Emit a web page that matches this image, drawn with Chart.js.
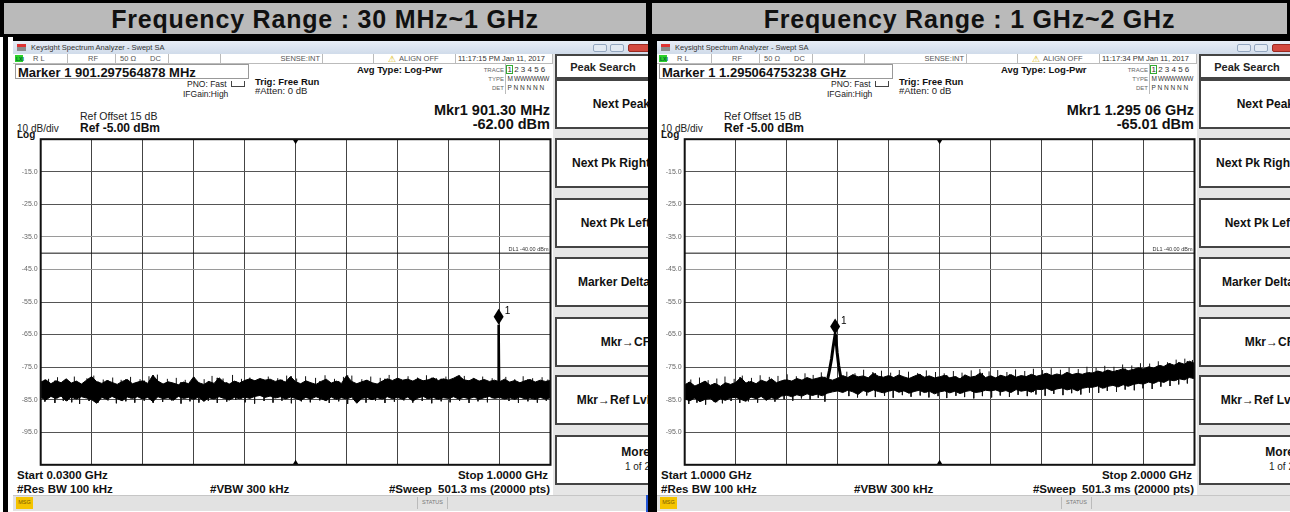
<!DOCTYPE html>
<html>
<head>
<title>Spectrum Analyzer Screens</title>
<script src="https://cdn.jsdelivr.net/npm/chart.js"></script>
<style>
  body { margin:0; width:1290px; height:512px; overflow:hidden; background:#000; position:relative; font-family:'Liberation Sans', Arial, sans-serif; }
  .title { position:absolute; top:3px; height:31px; background:#bababa; font-weight:bold; font-size:25px; letter-spacing:0.8px; line-height:32px; text-align:center; color:#111; }
  .panel { position:absolute; top:0; height:512px; overflow:hidden; }
  .inner { position:absolute; top:0; width:700px; height:512px; }
  .t { position:absolute; white-space:nowrap; line-height:1; color:#111; }
  .b { position:absolute; box-sizing:border-box; }
  canvas { position:absolute; }
</style>
</head>
<body>
<div class="title" style="left:4px;width:642px">Frequency Range : 30 MHz~1 GHz</div>
<div class="title" style="left:652px;width:635px">Frequency Range : 1 GHz~2 GHz</div>
<div class="panel" id="p0" style="left:0;width:648px"><div class="inner" style="left:0"></div></div>
<div class="panel" id="p1" style="left:648px;width:642px"><div class="inner" style="left:-4px"></div></div>

<script>
// ---- data read off the two analyzer screens ----
// trace envelopes: 101 evenly spaced samples across each span (dBm)
const lowStartGHz = 0.03, lowStopGHz = 1.0;
const lowUpper = [
  -79.6,-78.9,-80.1,-79.2,-79.8,-78.6,-79.9,-79.3,-80.2,-79.0,
  -77.9,-79.5,-80.0,-79.1,-79.7,-80.3,-79.4,-78.8,-80.1,-79.6,
  -79.2,-80.0,-77.5,-79.3,-80.2,-79.5,-79.9,-80.4,-79.6,-80.1,
  -78.0,-79.8,-80.3,-79.4,-80.0,-78.3,-79.7,-80.2,-79.3,-79.9,
  -79.1,-78.6,-79.2,-78.5,-79.0,-78.7,-79.4,-78.9,-79.6,-77.9,
  -79.5,-80.1,-79.2,-79.8,-80.3,-79.4,-78.7,-79.9,-79.3,-80.0,
  -77.6,-79.4,-80.1,-79.5,-79.0,-79.8,-80.2,-79.3,-78.6,-79.1,
  -78.4,-79.0,-78.7,-79.3,-78.5,-79.2,-78.9,-78.3,-79.1,-78.6,
  -79.0,-78.4,-77.6,-78.9,-79.2,-78.5,-79.3,-78.8,-79.4,-79.0,
  -79.5,-78.7,-79.6,-79.1,-79.8,-79.2,-78.8,-79.6,-79.0,-79.4,-79.1
];
const lowLower = [
  -84.3,-85.1,-84.0,-84.6,-83.9,-85.4,-84.2,-84.8,-84.1,-84.5,
  -85.0,-86.1,-84.3,-84.9,-84.0,-84.7,-85.3,-84.2,-84.6,-84.1,
  -84.8,-84.3,-85.6,-84.1,-84.7,-84.4,-85.2,-84.0,-84.6,-84.3,
  -84.9,-84.2,-85.5,-84.4,-84.8,-84.1,-84.6,-85.1,-84.3,-84.7,
  -84.2,-84.6,-84.0,-83.7,-84.3,-83.9,-84.5,-84.1,-84.8,-84.2,
  -84.6,-85.2,-84.3,-84.8,-84.1,-84.7,-85.3,-84.2,-84.9,-84.4,
  -84.8,-84.2,-86.1,-84.6,-84.3,-85.0,-84.4,-84.8,-84.1,-84.7,
  -84.3,-84.9,-84.2,-85.4,-84.5,-84.0,-84.7,-84.3,-84.9,-84.4,
  -84.6,-84.1,-84.8,-84.3,-84.7,-84.2,-84.9,-84.4,-84.0,-84.6,
  -84.3,-84.8,-84.4,-84.9,-84.2,-84.7,-84.5,-84.9,-84.3,-84.8,-84.4
];
// single-sample noise spikes sticking out of the band
const lowUpSpikeGHz = [0.045,0.062,0.081,0.094,0.118,0.131,0.149,0.167,0.183,0.201,0.219,0.236,0.252,0.271,0.288,0.305,0.322,0.341,0.356,0.377,0.395,0.412,0.428,0.447,0.463,0.481,0.498,0.517,0.534,0.553,0.571,0.589,0.606,0.622,0.641,0.658,0.676,0.693,0.712,0.729,0.747,0.764,0.783,0.801,0.818,0.836,0.853,0.871,0.889,0.915,0.932,0.948,0.966,0.984,0.995];
const lowUpSpikeDbm = [-78.6,-78.1,-78.9,-77.9,-78.4,-77.6,-78.8,-78.2,-78.9,-78.0,-78.7,-77.8,-77.3,-78.6,-78.3,-78.9,-78.1,-78.7,-77.7,-78.5,-77.4,-78.6,-78.2,-78.9,-77.9,-78.4,-77.6,-78.5,-77.8,-78.3,-77.5,-78.6,-78.0,-77.6,-78.7,-77.9,-78.3,-77.4,-78.6,-77.8,-78.2,-77.5,-78.4,-77.9,-78.6,-77.7,-78.3,-77.9,-78.4,-78.0,-78.7,-77.8,-78.4,-78.1,-78.8];
const lowDownSpikeGHz = [0.038,0.057,0.073,0.089,0.104,0.122,0.139,0.158,0.174,0.192,0.209,0.227,0.244,0.262,0.279,0.297,0.314,0.331,0.349,0.366,0.384,0.401,0.419,0.437,0.455,0.472,0.489,0.507,0.526,0.543,0.561,0.579,0.597,0.614,0.632,0.649,0.667,0.685,0.703,0.721,0.738,0.756,0.774,0.792,0.809,0.827,0.845,0.862,0.880,0.921,0.939,0.957,0.975,0.992];
const lowDownSpikeDbm = [-85.6,-86.0,-85.3,-85.8,-86.3,-85.4,-85.9,-85.2,-86.1,-85.5,-85.9,-85.3,-86.0,-85.7,-85.2,-86.2,-85.5,-85.9,-85.3,-86.0,-85.6,-85.1,-85.8,-86.2,-85.4,-85.9,-85.3,-86.1,-85.5,-85.8,-85.2,-86.0,-85.5,-86.3,-85.4,-85.9,-85.3,-86.0,-85.6,-85.2,-85.9,-85.4,-86.1,-85.5,-85.8,-85.3,-86.0,-85.5,-85.8,-85.4,-86.0,-85.5,-85.9,-85.3];
const lowPeakGHz = [0.9003, 0.9013, 0.9023];
const lowPeakDbm = [-80.5, -62.0, -80.5];

const highStartGHz = 1.0, highStopGHz = 2.0;
const highUpper = [
  -80.4,-79.6,-80.8,-80.1,-79.3,-80.6,-80.0,-80.9,-79.8,-80.3,
  -79.7,-78.2,-79.9,-79.4,-80.1,-79.0,-79.6,-78.6,-79.8,-79.2,
  -78.9,-79.3,-78.5,-79.0,-78.2,-78.8,-78.4,-78.0,-78.6,-79.0,
  -78.4,-77.6,-78.2,-77.3,-78.0,-77.7,-78.3,-76.9,-77.8,-78.1,
  -77.6,-78.2,-77.4,-78.0,-78.5,-77.8,-77.2,-78.1,-77.7,-78.3,
  -78.0,-77.5,-78.3,-77.9,-78.6,-77.4,-78.1,-77.8,-76.8,-78.2,
  -77.7,-78.3,-77.5,-78.0,-77.3,-78.1,-77.6,-77.9,-77.2,-77.8,
  -77.4,-76.9,-77.6,-77.1,-77.5,-76.6,-77.3,-76.9,-77.2,-76.7,
  -76.8,-76.2,-76.6,-75.9,-76.4,-76.0,-75.5,-76.1,-75.7,-75.2,
  -75.6,-74.9,-75.3,-74.5,-74.8,-73.9,-74.4,-73.6,-74.1,-73.2,-73.8
];
const highLower = [
  -84.8,-85.3,-84.5,-85.6,-84.9,-84.6,-85.8,-84.7,-85.2,-84.4,
  -84.3,-84.9,-85.5,-84.2,-84.7,-84.0,-85.1,-84.4,-84.8,-83.9,
  -83.6,-84.1,-83.5,-83.9,-83.2,-83.7,-83.3,-83.8,-83.0,-82.6,
  -82.3,-82.8,-82.1,-82.6,-83.4,-82.2,-82.7,-82.0,-82.5,-82.9,
  -82.4,-82.0,-82.7,-82.3,-83.0,-82.5,-82.1,-82.8,-82.4,-83.2,
  -82.6,-82.3,-82.9,-82.4,-83.1,-82.5,-82.2,-82.8,-82.6,-82.1,
  -82.3,-82.0,-82.6,-82.2,-82.8,-81.9,-82.4,-82.1,-82.7,-81.8,
  -81.9,-81.5,-82.2,-81.7,-81.4,-82.0,-81.6,-82.3,-81.5,-81.2,
  -81.2,-80.8,-81.5,-80.9,-80.6,-81.1,-80.4,-80.9,-80.3,-80.0,
  -80.2,-79.6,-80.0,-79.3,-79.7,-78.9,-79.2,-78.6,-78.9,-78.2,-78.5
];
const highUpSpikeGHz = [1.012,1.029,1.046,1.063,1.079,1.097,1.113,1.131,1.148,1.166,1.183,1.201,1.219,1.236,1.252,1.268,1.318,1.334,1.351,1.369,1.386,1.404,1.421,1.439,1.457,1.474,1.492,1.509,1.527,1.544,1.562,1.579,1.597,1.614,1.632,1.649,1.667,1.684,1.702,1.719,1.737,1.754,1.772,1.789,1.807,1.824,1.842,1.859,1.877,1.894,1.912,1.929,1.947,1.964,1.981,1.996];
const highUpSpikeDbm = [-78.8,-78.2,-79.0,-78.5,-77.9,-78.6,-77.6,-78.3,-77.5,-78.0,-77.7,-77.2,-77.8,-76.9,-77.4,-76.6,-76.4,-76.9,-75.8,-76.5,-76.1,-76.7,-75.9,-76.4,-76.8,-76.0,-76.5,-76.9,-76.2,-76.7,-76.0,-75.6,-76.3,-75.9,-76.5,-75.7,-76.2,-75.5,-75.9,-75.3,-75.8,-75.1,-75.6,-74.9,-75.2,-74.6,-74.9,-74.2,-74.5,-73.8,-73.9,-73.2,-73.5,-72.7,-72.4,-72.8];
const highDownSpikeGHz = [1.008,1.024,1.041,1.058,1.074,1.091,1.108,1.125,1.143,1.160,1.177,1.195,1.212,1.229,1.246,1.262,1.275,1.322,1.339,1.357,1.374,1.392,1.409,1.427,1.444,1.462,1.479,1.497,1.514,1.532,1.549,1.567,1.584,1.602,1.619,1.637,1.654,1.672,1.689,1.707,1.724,1.742,1.759,1.777,1.794,1.812,1.829,1.847,1.864,1.882,1.899,1.917,1.934,1.952,1.969,1.986];
const highDownSpikeDbm = [-86.3,-85.9,-86.5,-85.7,-86.1,-85.4,-86.0,-85.5,-85.9,-85.2,-85.6,-84.9,-85.3,-84.6,-85.0,-84.4,-85.6,-83.9,-84.3,-83.7,-84.2,-83.8,-84.4,-83.6,-84.1,-83.7,-84.3,-83.9,-84.5,-83.8,-84.2,-84.6,-83.9,-84.3,-83.7,-84.1,-83.5,-83.9,-83.4,-83.8,-83.2,-83.6,-83.0,-83.4,-82.8,-82.9,-82.3,-82.6,-81.9,-82.1,-81.5,-81.7,-81.0,-80.8,-80.3,-80.0];
const highPeakGHz = [1.278, 1.284, 1.288, 1.291, 1.2935, 1.29506, 1.2965, 1.299, 1.302, 1.306, 1.310];
const highPeakDbm = [-80.5, -76.0, -72.5, -69.0, -66.5, -65.01, -66.0, -70.5, -74.5, -78.0, -80.0];

const markerGHz = [0.901297564878, 1.295064753238];
const markerDbm = [-62.00, -65.01];
const refLevelDbm = -5, bottomDbm = -105;
const yTicks = [-15, -25, -35, -45, -55, -65, -75, -85, -95];
const displayLineDbm = -40;

const softkeys = ['Next Peak', 'Next Pk Right', 'Next Pk Left', 'Marker Delta', 'Mkr\u2192CF', 'Mkr\u2192Ref Lvl', 'More'];
const softkeyTops = [79, 138, 198, 257, 317, 375, 435];

const panels = [
  { id: 'p0', start: lowStartGHz, stop: lowStopGHz, upper: lowUpper, lower: lowLower,
    upF: lowUpSpikeGHz, upL: lowUpSpikeDbm, downF: lowDownSpikeGHz, downL: lowDownSpikeDbm,
    peakF: lowPeakGHz, peakL: lowPeakDbm, peakW: 2.5,
    markerLine: 'Marker 1 901.297564878 MHz', mkrF: 'Mkr1 901.30 MHz', mkrL: '-62.00 dBm',
    time: '11:17:15 PM Jan 11, 2017', startTxt: 'Start 0.0300 GHz', stopTxt: 'Stop 1.0000 GHz' },
  { id: 'p1', start: highStartGHz, stop: highStopGHz, upper: highUpper, lower: highLower,
    upF: highUpSpikeGHz, upL: highUpSpikeDbm, downF: highDownSpikeGHz, downL: highDownSpikeDbm,
    peakF: highPeakGHz, peakL: highPeakDbm, peakW: 3,
    markerLine: 'Marker 1 1.295064753238 GHz', mkrF: 'Mkr1 1.295 06 GHz', mkrL: '-65.01 dBm',
    time: '11:17:34 PM Jan 11, 2017', startTxt: 'Start 1.0000 GHz', stopTxt: 'Stop 2.0000 GHz' }
];

Chart.defaults.font.family = "'Liberation Sans', Arial, sans-serif";

// overlay: display line, centre-frequency triangles, marker diamond, frame
const overlay = {
  id: 'overlay',
  afterDatasetsDraw(chart, args, o) {
    const { ctx, chartArea: a, scales: { x, y } } = chart;
    ctx.save();
    const yd = y.getPixelForValue(displayLineDbm);
    ctx.strokeStyle = '#111';
    ctx.lineWidth = 1;
    ctx.beginPath(); ctx.moveTo(a.left, yd); ctx.lineTo(a.right, yd); ctx.stroke();
    ctx.fillStyle = '#333';
    ctx.font = "5.5px 'Liberation Sans', Arial";
    ctx.textAlign = 'right';
    ctx.fillText('DL1 -40.00 dBm', a.right - 2, yd - 2.5);

    const xc = x.getPixelForValue((x.min + x.max) / 2);
    ctx.fillStyle = '#000';
    ctx.beginPath(); ctx.moveTo(xc - 3, a.top); ctx.lineTo(xc + 3, a.top); ctx.lineTo(xc, a.top + 5); ctx.fill();
    ctx.beginPath(); ctx.moveTo(xc - 3, a.bottom); ctx.lineTo(xc + 3, a.bottom); ctx.lineTo(xc, a.bottom - 5); ctx.fill();

    const mx = x.getPixelForValue(o.mkF), my = y.getPixelForValue(o.mkL);
    ctx.beginPath();
    ctx.moveTo(mx, my); ctx.lineTo(mx + 5, my - 8); ctx.lineTo(mx, my - 16); ctx.lineTo(mx - 5, my - 8);
    ctx.closePath(); ctx.fill();
    ctx.font = "10px 'Liberation Sans', Arial";
    ctx.textAlign = 'left';
    ctx.fillText('1', mx + 6, my - 11);

    ctx.lineWidth = 2;
    ctx.strokeStyle = '#111';
    ctx.strokeRect(a.left, a.top, a.right - a.left, a.bottom - a.top);
    ctx.restore();
  }
};

function buildPanel(p, idx) {
  const el = document.querySelector('#' + p.id + ' .inner');
  const box = (x, y, w, h, css) => {
    const d = document.createElement('div');
    d.className = 'b';
    d.style.cssText = `left:${x}px;top:${y}px;width:${w}px;height:${h}px;` + (css || '');
    el.appendChild(d);
    return d;
  };
  const text = (x, cy, s, css, align) => {
    const d = document.createElement('div');
    d.className = 't';
    d.textContent = s;
    d.style.cssText = `left:${x}px;top:${cy}px;` + (css || '');
    d.style.transform = align === 'r' ? 'translate(-100%,-50%)' : align === 'c' ? 'translate(-50%,-50%)' : 'translateY(-50%)';
    el.appendChild(d);
    return d;
  };

  // backdrop around the window
  box(0, 37, 3, 475, 'background:#fff');
  if (idx === 0) box(8, 37, 5, 475, 'background:#fff');
  box(13, 41, 640, 471, 'background:#fff');

  // window title bar
  box(13, 41, 640, 13, 'background:linear-gradient(#e8eef6,#d0dbea)');
  box(17, 44, 9, 7, 'background:linear-gradient(#d33 0 45%,#8a8a8a 45%)');
  text(31, 47.5, 'Keysight Spectrum Analyzer - Swept SA', 'font-size:7.5px;color:#333');
  box(593, 44, 14, 8, 'background:#e3eaf3;border:1px solid #93a6bf;border-radius:2px');
  box(610, 44, 14, 8, 'background:#e3eaf3;border:1px solid #93a6bf;border-radius:2px');
  box(628, 44, 22, 8, 'background:#d2493f;border:1px solid #9a2a22;border-radius:2px');

  // status row
  box(13, 54, 540, 10, 'border-bottom:1px solid #bbb');
  [67, 115, 168, 220, 322, 373, 455, 552].forEach(x => box(x, 54, 1, 10, 'background:#bbb'));
  box(15, 55, 8, 7, 'background:#2bd12b');
  text(16, 58.8, 'LXI', 'font-size:5px;color:#063;font-weight:bold');
  const st = 'font-size:7.5px;color:#555';
  text(33, 59, 'R L', st);
  text(88, 59, 'RF', st);
  text(120, 59, '50 \u03a9', st);
  text(150, 59, 'DC', st);
  text(320, 59, 'SENSE:INT', st, 'r');
  text(388, 58.5, '\u26a0', 'font-size:9px;color:#d8b400');
  text(399, 59, 'ALIGN OFF', st);
  text(458, 59, p.time, 'font-size:7.5px;color:#333');

  // marker / setup annotations
  box(15, 64, 234, 15, 'border:1px solid #999');
  text(18, 71.5, p.markerLine, 'font-size:13px;font-weight:bold');
  text(187, 84, 'PNO: Fast', 'font-size:8.5px;color:#222');
  box(231, 81, 14, 6, 'border:1px solid #444;border-top:none');
  text(183, 93.5, 'IFGain:High', 'font-size:8.5px;color:#222');
  text(255, 81.5, 'Trig: Free Run', 'font-size:9.5px;font-weight:bold');
  text(255, 90.5, '#Atten: 0 dB', 'font-size:9.5px;color:#222');
  text(357, 69.5, 'Avg Type: Log-Pwr', 'font-size:9.5px;font-weight:bold');

  box(505, 64, 48, 30, 'border-left:1px solid #bbb');
  box(506, 65, 7, 9, 'border:1px solid #3a3');
  text(504, 69.5, 'TRACE', 'font-size:6px;color:#666', 'r');
  text(504, 78.5, 'TYPE', 'font-size:6px;color:#666', 'r');
  text(504, 87.5, 'DET', 'font-size:6px;color:#666', 'r');
  text(507.5, 69.5, '1 2 3 4 5 6', 'font-size:8px;color:#333');
  text(507.5, 78.5, 'M WWWWWW', 'font-size:6.5px;color:#333;letter-spacing:-0.3px');
  text(507.5, 87.5, 'P N N N N N', 'font-size:6.5px;color:#333');

  text(550, 109.5, p.mkrF, 'font-size:14.5px;font-weight:bold', 'r');
  text(550, 124, p.mkrL, 'font-size:14.5px;font-weight:bold', 'r');
  text(80, 116, 'Ref Offset 15 dB', 'font-size:10.5px;color:#222');
  text(80, 127.5, 'Ref -5.00 dBm', 'font-size:12px;font-weight:bold');
  text(17, 129, '10 dB/div', 'font-size:10px;color:#222');
  text(17, 135, 'Log', 'font-size:10px;font-weight:bold');

  // bottom annotations
  const bt = 'font-size:11.5px;font-weight:bold';
  text(17, 475.5, p.startTxt, bt);
  text(17, 489.5, '#Res BW 100 kHz', bt);
  text(210, 489.5, '#VBW 300 kHz', bt);
  text(548, 475.5, p.stopTxt, bt, 'r');
  text(550, 489.5, '#Sweep\u00a0\u00a0501.3 ms (20000 pts)', bt, 'r');

  // status bar
  box(13, 495, 640, 16, 'background:#e2e2e2;border-top:1px solid #c6c6c6');
  box(16, 497, 17, 12, 'background:#f5c400');
  text(24.5, 503, 'MSG', 'font-size:5.5px;color:#7a5a00', 'c');
  box(417, 497, 31, 12, 'border-left:1px solid #bbb;border-right:1px solid #bbb');
  text(432.5, 503, 'STATUS', 'font-size:5.5px;color:#777', 'c');
  if (idx === 0) box(646, 494, 2, 18, 'background:#2456d6');

  // softkey column
  box(553, 54, 110, 441, 'background:#e6e6e6');
  box(555, 54, 105, 25, 'background:#fff;border:2px solid #444');
  text(603, 66.5, 'Peak Search', 'font-size:11px;font-weight:600;color:#222', 'c');
  softkeys.forEach((k, i) => {
    const top = softkeyTops[i];
    box(555, top, 105, 50, 'background:#fff;border:2px solid #444');
    if (k === 'More') {
      text(650, top + 17, k, 'font-size:12px;font-weight:bold', 'r');
      text(650, top + 32, '1 of 2', 'font-size:10px;color:#222', 'r');
    } else {
      text(650, top + 25, k, 'font-size:12px;font-weight:bold', 'r');
    }
  });

  // trace display
  const cv = document.createElement('canvas');
  cv.width = 544; cv.height = 340;
  cv.style.left = '10px'; cv.style.top = '132px';
  el.appendChild(cv);

  const step = (p.stop - p.start) / (p.upper.length - 1);
  const xs = p.upper.map((_, i) => p.start + i * step);
  const divs = Array.from({ length: 11 }, (_, i) => p.start + i * (p.stop - p.start) / 10);
  const yLevels = [bottomDbm, ...yTicks.slice().reverse(), refLevelDbm];

  // spikes: vertical strokes from the opposite band edge out to the spike tip
  const spikes = [];
  const near = f => Math.round((f - p.start) / step);
  p.upF.forEach((f, i) => spikes.push({ x: f, y: p.lower[near(f)] }, { x: f, y: p.upL[i] }, { x: f, y: null }));
  p.downF.forEach((f, i) => spikes.push({ x: f, y: p.upper[near(f)] }, { x: f, y: p.downL[i] }, { x: f, y: null }));

  new Chart(cv, {
    type: 'line',
    data: {
      datasets: [
        { data: xs.map((x, i) => ({ x, y: p.upper[i] })), borderColor: '#000', borderWidth: 1, pointRadius: 0, fill: false },
        { data: xs.map((x, i) => ({ x, y: p.lower[i] })), borderColor: '#000', borderWidth: 1, pointRadius: 0, fill: '-1', backgroundColor: '#000' },
        { data: spikes, borderColor: '#111', borderWidth: 1, pointRadius: 0, fill: false, spanGaps: false },
        { data: p.peakF.map((x, i) => ({ x, y: p.peakL[i] })), borderColor: '#000', borderWidth: p.peakW, pointRadius: 0, fill: false }
      ]
    },
    options: {
      responsive: false,
      animation: false,
      devicePixelRatio: 1,
      layout: { padding: { top: 5.3, bottom: 5, right: 3.5, left: 0 } },
      elements: { line: { tension: 0 } },
      plugins: {
        legend: { display: false },
        tooltip: { enabled: false },
        overlay: { mkF: markerGHz[idx], mkL: markerDbm[idx] }
      },
      scales: {
        x: {
          type: 'linear', min: p.start, max: p.stop,
          border: { display: false },
          grid: { color: '#444', lineWidth: 1, drawTicks: false },
          ticks: { display: false },
          afterBuildTicks: s => { s.ticks = divs.map(v => ({ value: v })); },
          afterFit: s => { s.height = 0; }
        },
        y: {
          min: bottomDbm, max: refLevelDbm,
          border: { display: false },
          grid: {
            drawTicks: false,
            lineWidth: 1,
            color: c => (c.tick && (c.tick.value === -35 || c.tick.value === -45)) ? '#9a9a9a' : '#555'
          },
          ticks: {
            autoSkip: false, padding: 3, color: '#666',
            font: { size: 7 },
            callback: v => yTicks.includes(v) ? v.toFixed(1) : ''
          },
          afterBuildTicks: s => { s.ticks = yLevels.map(v => ({ value: v })); },
          afterFit: s => { s.width = 30.7; }
        }
      }
    },
    plugins: [overlay]
  });
}

panels.forEach(buildPanel);
</script>
</body>
</html>
